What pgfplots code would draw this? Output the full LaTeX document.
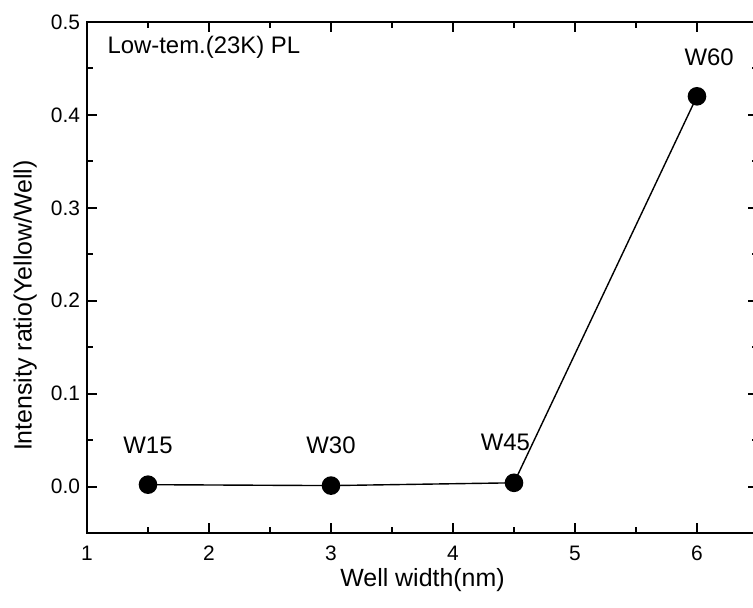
\documentclass[border=0pt]{standalone}
\usepackage{pgfplots}
\pgfplotsset{compat=1.18}
\usepackage{fontspec}
\setmainfont{Liberation Sans}
\begin{document}
\begin{tikzpicture}
\begin{axis}[name=ax,
  scale only axis, width=335.5bp, height=255.5bp,
  xmin=1, xmax=6.5, ymin=-0.05, ymax=0.5,
  xtick={1,2,3,4,5,6}, minor xtick={1.5,2.5,3.5,4.5,5.5,6.5},
  ytick={0,0.1,0.2,0.3,0.4,0.5}, minor ytick={-0.05,0.05,0.15,0.25,0.35,0.45},
  tick align=inside, major tick length=5bp, minor tick length=3bp,
  tick style={line width=1bp, black},
  axis line style={line width=1.2bp},
  /pgf/number format/assume math mode=true,
  ticklabel style={font=\fontsize{10.5}{12}\selectfont},
  yticklabel style={/pgf/number format/.cd, fixed, fixed zerofill, precision=1},
  xticklabel style={yshift=-3bp, /pgf/number format/.cd, fixed, precision=0},
  label style={font=\fontsize{12.5}{14}\selectfont},
  xlabel={Well width(nm)}, ylabel={Intensity ratio(Yellow/Well)},
  xlabel style={at={(axis description cs:0.5,-0.092)}, anchor=center},
  ylabel style={at={(axis description cs:-0.092,0.445)}, anchor=center},
  clip=false,
]
\addplot[black, line width=0.7bp, mark=*, mark size=4.3bp, mark options={fill=black}] coordinates {
 (1.5,0.002) (3,0.001) (4.5,0.004) (6,0.42)
};
\node[font=\fontsize{12}{14}\selectfont] at (axis cs:1.5,0.044) {W15};
\node[font=\fontsize{12}{14}\selectfont] at (axis cs:3.0,0.044) {W30};
\node[font=\fontsize{12}{14}\selectfont] at (axis cs:4.43,0.048) {W45};
\node[font=\fontsize{12}{14}\selectfont] at (axis cs:6.1,0.462) {W60};
\node[font=\fontsize{12}{14}\selectfont, anchor=west, inner sep=0pt] at (axis cs:1.165,0.473) {Low-tem.(23K) PL};
\end{axis}
\pgfresetboundingbox
\path ([xshift=-43.5bp,yshift=-37.5bp]ax.south west) rectangle ([xshift=333bp,yshift=11bp]ax.north west);
\end{tikzpicture}
\end{document}
